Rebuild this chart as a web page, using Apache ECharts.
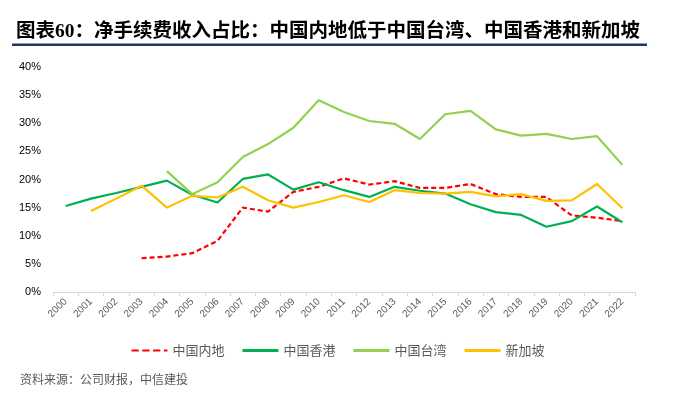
<!DOCTYPE html>
<html>
<head>
<meta charset="utf-8">
<script src="https://cdn.jsdelivr.net/npm/echarts@6/dist/echarts.min.js"></script>
<style>
html,body{margin:0;padding:0;background:#fff;}
#c{width:676px;height:401px;}
</style>
</head>
<body>
<div id="c"></div>
<script>
const years = ['2000','2001','2002','2003','2004','2005','2006','2007','2008','2009','2010','2011','2012','2013','2014','2015','2016','2017','2018','2019','2020','2021','2022'];
const mainland = [null,null,null,6.0,6.3,6.9,9.1,15.0,14.3,17.8,18.7,20.2,19.1,19.7,18.5,18.5,19.2,17.4,16.9,16.9,13.6,13.2,12.6];
const hongkong = [15.3,16.6,17.6,18.7,19.8,17.3,15.9,20.1,20.9,18.2,19.5,18.1,16.9,18.7,18.0,17.5,15.6,14.2,13.7,11.6,12.6,15.2,12.4];
const taiwan = [null,null,null,null,21.5,17.4,19.5,24.0,26.3,29.2,34.1,32.0,30.4,29.9,27.2,31.6,32.2,28.9,27.8,28.1,27.2,27.7,22.6];
const singapore = [null,14.4,16.6,18.9,15.0,17.1,16.8,18.7,16.3,15.0,16.0,17.2,16.0,18.1,17.6,17.5,17.8,17.0,17.4,16.2,16.3,19.2,14.9];
const seriesNames = ['中国内地','中国香港','中国台湾','新加坡'];
const titleText = '图表60：净手续费收入占比：中国内地低于中国台湾、中国香港和新加坡';
const sourceText = '资料来源：公司财报，中信建投';

const chart = echarts.init(document.getElementById('c'));
const grey = '#595959';
function line(name, data, color, dashed){
  return {name:name, type:'line', data:data, symbol:'none', smooth:false,
    lineStyle:{color:color, width:2.2, type: dashed ? [5,3] : 'solid'},
    itemStyle:{color:color}, connectNulls:false};
}
chart.setOption({
  animation:false,
  title:{text:titleText, left:11, top:17,
    textStyle:{fontFamily:'"Liberation Serif","Noto Sans CJK SC",serif', fontWeight:'bold', fontSize:19.5, color:'#000'}},
  graphic:[
    {type:'rect', shape:{x:12, y:43.5, width:635, height:2.5}, style:{fill:'#1f3864'}},
    {type:'text', left:20, top:373, style:{text:sourceText, fill:grey, font:'12px "Noto Sans CJK SC"'}}
  ],
  grid:{left:53, right:41, top:67, bottom:109},
  legend:{top:339, left:'center', itemWidth:36, itemHeight:3, itemGap:18, icon:'rect',
    textStyle:{color:grey, fontSize:13, fontFamily:'"Noto Sans CJK SC"'},
    data:seriesNames.map((n,i)=>({name:n, icon: i===0 ? 'path://M0,0h8v2h-8zM12,0h8v2h-8zM24,0h8v2h-8zM36,0h4v2h-4z' : 'rect'}))},
  xAxis:{type:'category', data:years, boundaryGap:true,
    axisLine:{lineStyle:{color:'#d9d9d9'}},
    axisTick:{show:true, alignWithLabel:false, length:4, lineStyle:{color:'#d9d9d9'}},
    axisLabel:{rotate:45, color:grey, fontSize:10, margin:8, interval:0, fontFamily:'"Liberation Sans",sans-serif'}},
  yAxis:{type:'value', min:0, max:40, interval:5,
    axisLabel:{formatter:'{value}%', color:'#000', fontSize:11, margin:12, fontFamily:'"Liberation Sans",sans-serif'},
    splitLine:{show:false}, axisLine:{show:false}, axisTick:{show:false}},
  series:[
    line(seriesNames[0], mainland, '#ff0000', true),
    line(seriesNames[1], hongkong, '#00b050', false),
    line(seriesNames[2], taiwan, '#92d050', false),
    line(seriesNames[3], singapore, '#ffc000', false)
  ]
});
</script>
</body>
</html>
